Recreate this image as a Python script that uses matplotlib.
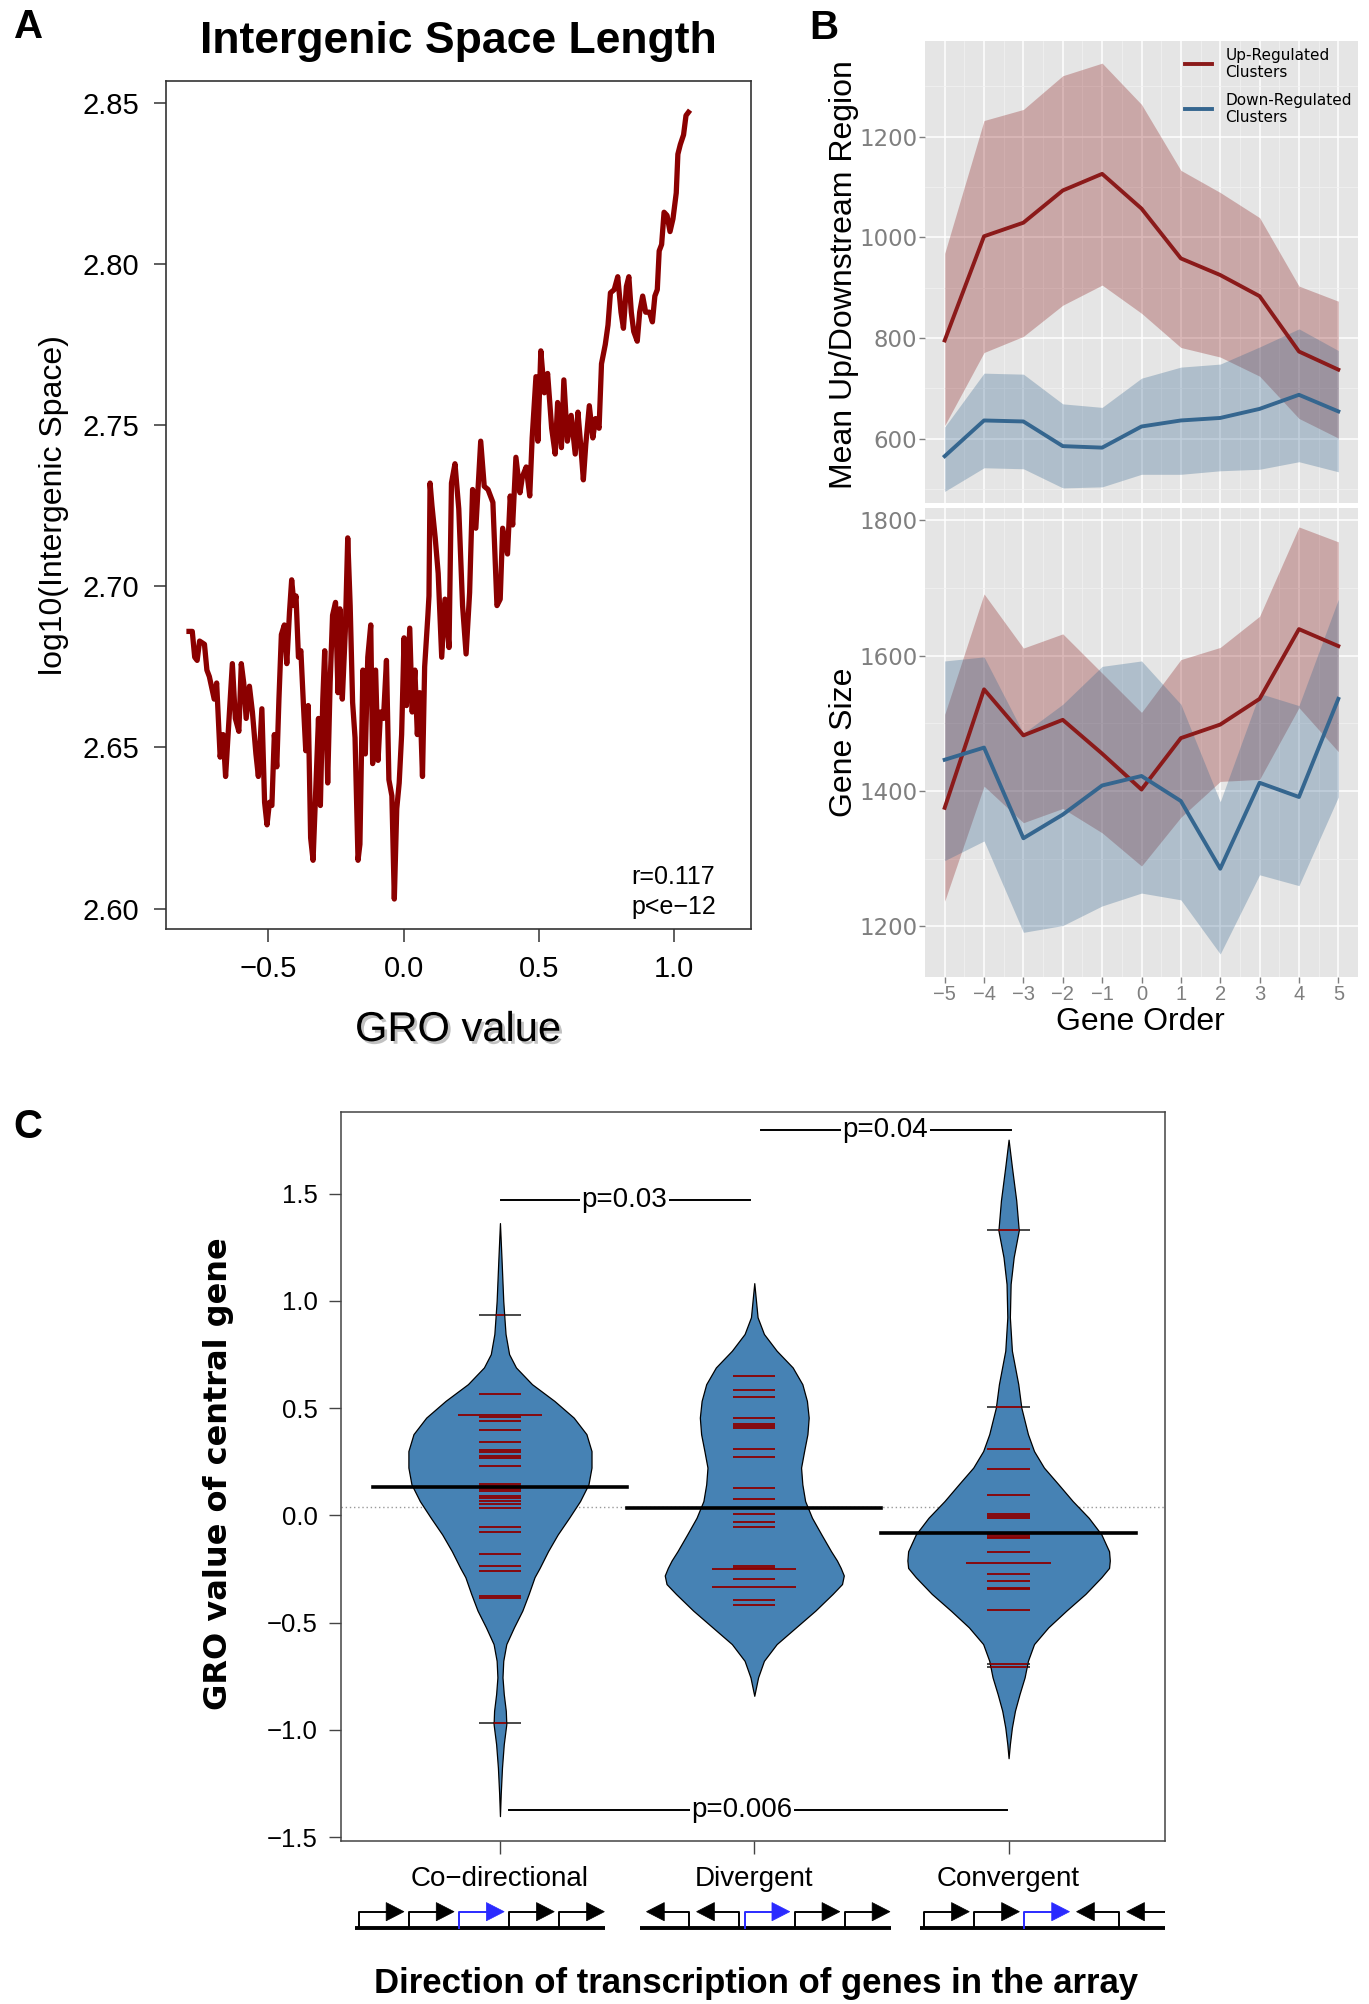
import matplotlib
matplotlib.use('Agg')
import matplotlib.pyplot as plt
import matplotlib.patheffects as pe
from matplotlib.collections import LineCollection
from matplotlib.patches import Polygon
import numpy as np

plt.rcParams['font.family'] = ['Liberation Sans', 'DejaVu Sans']

# ---------------- panel A: running mean of intergenic space vs GRO value
curve_pts = [
    (-0.792, 2.686), (-0.780, 2.686), (-0.771, 2.678), (-0.762, 2.677), (-0.753, 2.683),
    (-0.735, 2.682), (-0.726, 2.674), (-0.717, 2.672), (-0.699, 2.665), (-0.690, 2.670),
    (-0.677, 2.647), (-0.666, 2.654), (-0.657, 2.641), (-0.644, 2.659), (-0.632, 2.676),
    (-0.621, 2.659), (-0.608, 2.655), (-0.599, 2.676), (-0.590, 2.670), (-0.581, 2.659),
    (-0.569, 2.669), (-0.558, 2.661), (-0.545, 2.648), (-0.536, 2.641), (-0.523, 2.662),
    (-0.513, 2.633), (-0.504, 2.626), (-0.495, 2.633), (-0.486, 2.632), (-0.477, 2.654),
    (-0.468, 2.644), (-0.460, 2.665), (-0.451, 2.685), (-0.440, 2.688), (-0.431, 2.676),
    (-0.421, 2.692), (-0.413, 2.702), (-0.404, 2.694), (-0.397, 2.697), (-0.388, 2.678),
    (-0.379, 2.680), (-0.370, 2.664), (-0.361, 2.649), (-0.352, 2.663), (-0.343, 2.622),
    (-0.334, 2.615), (-0.323, 2.639), (-0.314, 2.659), (-0.307, 2.632), (-0.298, 2.665),
    (-0.291, 2.680), (-0.280, 2.639), (-0.271, 2.670), (-0.262, 2.691), (-0.251, 2.695),
    (-0.242, 2.667), (-0.235, 2.693), (-0.226, 2.665), (-0.215, 2.686), (-0.206, 2.715),
    (-0.197, 2.694), (-0.188, 2.664), (-0.179, 2.653), (-0.168, 2.615), (-0.161, 2.620),
    (-0.150, 2.674), (-0.141, 2.648), (-0.132, 2.678), (-0.121, 2.688), (-0.114, 2.645),
    (-0.103, 2.674), (-0.094, 2.646), (-0.085, 2.661), (-0.074, 2.659), (-0.063, 2.677),
    (-0.054, 2.640), (-0.043, 2.635), (-0.034, 2.603), (-0.025, 2.631), (-0.016, 2.639),
    (-0.007, 2.654), (0.002, 2.684), (0.011, 2.663), (0.023, 2.687), (0.032, 2.661),
    (0.042, 2.674), (0.051, 2.654), (0.060, 2.667), (0.070, 2.641), (0.078, 2.675),
    (0.090, 2.691), (0.094, 2.697), (0.098, 2.732), (0.105, 2.725), (0.117, 2.715),
    (0.128, 2.704), (0.141, 2.678), (0.153, 2.696), (0.168, 2.681), (0.177, 2.732),
    (0.190, 2.738), (0.204, 2.724), (0.218, 2.694), (0.231, 2.679), (0.244, 2.698),
    (0.255, 2.730), (0.267, 2.718), (0.285, 2.745), (0.298, 2.731), (0.312, 2.730),
    (0.330, 2.726), (0.345, 2.694), (0.357, 2.696), (0.366, 2.718), (0.384, 2.710),
    (0.394, 2.728), (0.403, 2.719), (0.415, 2.740), (0.430, 2.729), (0.439, 2.734),
    (0.453, 2.737), (0.466, 2.728), (0.475, 2.746), (0.489, 2.765), (0.496, 2.745),
    (0.507, 2.773), (0.520, 2.760), (0.532, 2.766), (0.547, 2.749), (0.560, 2.741),
    (0.569, 2.757), (0.583, 2.743), (0.592, 2.764), (0.605, 2.745), (0.619, 2.753),
    (0.634, 2.741), (0.644, 2.754), (0.655, 2.743), (0.664, 2.733), (0.673, 2.744),
    (0.686, 2.756), (0.699, 2.746), (0.709, 2.752), (0.722, 2.749), (0.731, 2.769),
    (0.745, 2.775), (0.755, 2.781), (0.764, 2.791), (0.778, 2.792), (0.791, 2.796),
    (0.803, 2.785), (0.812, 2.780), (0.823, 2.793), (0.832, 2.796), (0.841, 2.785),
    (0.850, 2.779), (0.863, 2.776), (0.872, 2.785), (0.883, 2.790), (0.894, 2.785),
    (0.908, 2.785), (0.919, 2.782), (0.928, 2.790), (0.937, 2.792), (0.944, 2.804),
    (0.953, 2.806), (0.962, 2.816), (0.973, 2.815), (0.984, 2.810), (0.995, 2.814),
    (1.007, 2.822), (1.013, 2.834), (1.022, 2.837), (1.034, 2.840), (1.043, 2.846),
    (1.052, 2.847),
]
gro_x = [p[0] for p in curve_pts]
log_space = [p[1] for p in curve_pts]

# ---------------- panel B: flanking region length and gene size by gene order
gene_order = [-5, -4, -3, -2, -1, 0, 1, 2, 3, 4, 5]
flank_up = [795, 1002, 1029, 1093, 1126, 1057, 958, 925, 883, 773, 737]
flank_up_hi = [968, 1232, 1254, 1321, 1346, 1264, 1133, 1089, 1039, 903, 873]
flank_up_lo = [626, 771, 803, 865, 905, 849, 781, 762, 724, 640, 601]
flank_dn = [565, 636, 634, 585, 582, 624, 636, 641, 659, 687, 654]
flank_dn_hi = [623, 730, 728, 669, 662, 720, 742, 748, 782, 818, 775]
flank_dn_lo = [495, 542, 540, 502, 504, 529, 529, 536, 539, 554, 534]

size_up = [1375, 1550, 1482, 1505, 1455, 1402, 1478, 1498, 1536, 1639, 1614]
size_up_hi = [1513, 1691, 1611, 1632, 1574, 1516, 1594, 1612, 1658, 1790, 1768]
size_up_lo = [1237, 1407, 1353, 1374, 1338, 1289, 1361, 1414, 1417, 1523, 1458]
size_dn = [1446, 1464, 1330, 1365, 1408, 1422, 1385, 1285, 1412, 1391, 1536]
size_dn_hi = [1592, 1598, 1485, 1528, 1584, 1592, 1528, 1384, 1544, 1526, 1683]
size_dn_lo = [1297, 1326, 1191, 1201, 1230, 1249, 1239, 1159, 1276, 1260, 1391]

# ---------------- panel C: GRO value of central gene by arrangement
categories = ['Co\u2212directional', 'Divergent', 'Convergent']
codir_y = [1.363, 1.2, 1.0, 0.93, 0.846, 0.752, 0.69, 0.612, 0.534, 0.456, 0.379, 0.30,
           0.223, 0.145, 0.067, -0.011, -0.089, -0.167, -0.245, -0.288, -0.366, -0.444,
           -0.522, -0.60, -0.678, -0.755, -0.833, -0.911, -0.973, -1.067, -1.176, -1.30, -1.402]
codir_w = [0.0, 0.006, 0.013, 0.017, 0.022, 0.036, 0.063, 0.126, 0.214, 0.29, 0.34, 0.36,
           0.36, 0.348, 0.315, 0.272, 0.227, 0.189, 0.156, 0.136, 0.113, 0.088,
           0.055, 0.025, 0.013, 0.010, 0.015, 0.023, 0.025, 0.015, 0.008, 0.003, 0.0]
div_y = [1.083, 0.924, 0.846, 0.768, 0.69, 0.612, 0.534, 0.456, 0.379, 0.30, 0.223, 0.145,
         0.067, -0.011, -0.089, -0.167, -0.21, -0.245, -0.28, -0.32, -0.366, -0.444, -0.522,
         -0.60, -0.678, -0.755, -0.841]
div_w = [0.0, 0.013, 0.038, 0.088, 0.151, 0.189, 0.207, 0.214, 0.209, 0.196, 0.184, 0.189,
         0.2, 0.227, 0.264, 0.302, 0.325, 0.34, 0.352, 0.345, 0.308, 0.24, 0.164,
         0.088, 0.038, 0.015, 0.0]
conv_y = [1.752, 1.625, 1.469, 1.329, 1.204, 1.079, 0.924, 0.768, 0.612, 0.503, 0.379, 0.30,
          0.223, 0.145, 0.067, -0.011, -0.089, -0.167, -0.21, -0.245, -0.288, -0.366, -0.444,
          -0.522, -0.60, -0.678, -0.755, -0.833, -0.911, -0.989, -1.067, -1.132]
conv_w = [0.0, 0.013, 0.03, 0.04, 0.02, 0.008, 0.005, 0.013, 0.038, 0.05, 0.076, 0.1,
          0.139, 0.196, 0.252, 0.315, 0.365, 0.395, 0.398, 0.395, 0.365, 0.302, 0.227,
          0.156, 0.1, 0.076, 0.063, 0.043, 0.025, 0.013, 0.005, 0.0]

codir_pts = [0.936, 0.565, 0.466, 0.466, 0.459, 0.441, 0.40, 0.344, 0.304, 0.298, 0.279,
             0.269, 0.229, 0.145, 0.137, 0.121, 0.114, 0.09, 0.079, 0.067, 0.055, 0.036,
             -0.053, -0.076, -0.179, -0.234, -0.26, -0.378, -0.385, -0.970]
div_pts = [0.651, 0.584, 0.553, 0.456, 0.425, 0.416, 0.407, 0.308, 0.273, 0.129, 0.075,
           0.005, -0.031, -0.053, -0.234, -0.245, -0.252, -0.252, -0.296, -0.335, -0.335,
           -0.394, -0.416]
conv_pts = [1.329, 0.506, 0.312, 0.215, 0.093, 0.005, -0.003, -0.011, -0.086, -0.092,
            -0.101, -0.107, -0.171, -0.222, -0.222, -0.275, -0.304, -0.338, -0.344,
            -0.439, -0.693, -0.706]
group_means = [0.132, 0.033, -0.081]
overall_mean = 0.039

pvals = ['p=0.03', 'p=0.04', 'p=0.006']
pval_x1 = [1.005, 2.025, 1.035]
pval_x2 = [1.985, 3.008, 2.995]
pval_y = [1.472, 1.799, -1.375]
pval_tx = [1.49, 2.516, 1.95]

gene_dirs = [['R', 'R', 'R', 'R', 'R'], ['L', 'L', 'R', 'R', 'R'], ['R', 'R', 'R', 'L', 'L']]

# ---------------- figure
W, H = 1369, 2004
fig = plt.figure(figsize=(W / 100, H / 100), dpi=100)


def box(x0, y0, x1, y1):
    return [x0 / W, 1 - y1 / H, (x1 - x0) / W, (y1 - y0) / H]


def fx(x):
    return x / W


def fy(y):
    return 1 - y / H


# ----- A
axA = fig.add_axes(box(166, 81, 751, 929))
axA.plot(gro_x, log_space, color='#8B0000', lw=3.8, solid_joinstyle='round')
axA.set_xlim(-0.877, 1.283)
axA.set_ylim(2.5937, 2.8567)
axA.set_xticks([-0.5, 0.0, 0.5, 1.0])
axA.set_xticklabels(['\u22120.5', '0.0', '0.5', '1.0'])
axA.set_yticks([2.60, 2.65, 2.70, 2.75, 2.80, 2.85])
axA.set_yticklabels(['%.2f' % v for v in [2.60, 2.65, 2.70, 2.75, 2.80, 2.85]])
axA.tick_params(direction='out', length=9, width=1.1, pad=10, labelsize=21, color='#333333')
for sp in axA.spines.values():
    sp.set_color('#333333')
    sp.set_linewidth(1.2)

fig.text(fx(29), fy(27), 'A', fontsize=29, weight='bold', ha='center', va='center')
fig.text(fx(458), fy(42), 'Intergenic Space Length', fontsize=32, weight='bold',
         ha='center', va='center')
fig.text(fx(54), fy(505), 'log10(Intergenic Space)', rotation=90, fontsize=23,
         ha='center', va='center')
fig.text(fx(458), fy(1030), 'GRO value', fontsize=30, ha='center', va='center',
         path_effects=[pe.withSimplePatchShadow(offset=(2, -2), shadow_rgbFace='#999999', alpha=0.6)])
fig.text(fx(631), fy(877), 'r=0.117', fontsize=18, ha='left', va='center')
fig.text(fx(631), fy(907), 'p<e\u221212', fontsize=18, ha='left', va='center')

# ----- B
RED = '#8B1A1A'
BLUE = '#35668F'
axB1 = fig.add_axes(box(925, 41, 1358, 503))
axB2 = fig.add_axes(box(925, 508, 1358, 977))
facets = [
    (axB1, flank_up, flank_up_lo, flank_up_hi, flank_dn, flank_dn_lo, flank_dn_hi,
     (472, 1390), [600, 800, 1000, 1200], [500, 700, 900, 1100, 1300]),
    (axB2, size_up, size_up_lo, size_up_hi, size_dn, size_dn_lo, size_dn_hi,
     (1125, 1818), [1200, 1400, 1600, 1800], [1300, 1500, 1700]),
]
for ax, um, ulo, uhi, dm, dlo, dhi, ylim, yt, ytm in facets:
    ax.set_facecolor('#E5E5E5')
    ax.fill_between(gene_order, ulo, uhi, color=RED, alpha=0.3, lw=0)
    ax.plot(gene_order, um, color=RED, lw=2.8)
    ax.fill_between(gene_order, dlo, dhi, color=BLUE, alpha=0.3, lw=0)
    ax.plot(gene_order, dm, color=BLUE, lw=2.8)
    ax.set_xlim(-5.5, 5.5)
    ax.set_ylim(*ylim)
    ax.set_xticks(gene_order)
    ax.set_xticks(np.arange(-4.5, 5.0, 1.0), minor=True)
    ax.set_yticks(yt)
    ax.set_yticks(ytm, minor=True)
    ax.set_axisbelow(True)
    ax.grid(which='major', color='white', lw=1.1)
    ax.grid(which='minor', color='#F2F2F2', lw=0.5)
    for sp in ax.spines.values():
        sp.set_visible(False)
    ax.tick_params(which='minor', length=0)
    ax.tick_params(which='major', direction='out', length=4, width=1, color='#7F7F7F',
                   labelcolor='#7F7F7F', pad=1.5)
    ax.tick_params(axis='y', labelsize=16.5)
    ax.tick_params(axis='x', labelsize=14.5)
    for lab in ax.get_yticklabels():
        lab.set_family('DejaVu Sans')
axB1.tick_params(axis='x', length=0, labelbottom=False)
axB2.set_xticklabels(['\u22125', '\u22124', '\u22123', '\u22122', '\u22121', '0', '1', '2', '3', '4', '5'])

# legend
for yl, col, lab in [(0.950, RED, 'Up-Regulated\nClusters'), (0.852, BLUE, 'Down-Regulated\nClusters')]:
    axB1.plot([0.600, 0.663], [yl, yl], color=col, lw=2.8, transform=axB1.transAxes, clip_on=False)
    axB1.text(0.694, yl, lab, transform=axB1.transAxes, fontsize=11, family='DejaVu Sans',
              ha='left', va='center', linespacing=1.15)

fig.text(fx(824), fy(28), 'B', fontsize=29, weight='bold', ha='center', va='center')
fig.text(fx(844), fy(275), 'Mean Up/Downstream Region', rotation=90, fontsize=23,
         ha='center', va='center')
fig.text(fx(844), fy(742), 'Gene Size', rotation=90, fontsize=23, ha='center', va='center')
fig.text(fx(1140), fy(1022), 'Gene Order', fontsize=23, ha='center', va='center')

# ----- C
axC = fig.add_axes(box(341, 1112, 1165, 1841))
axC.set_xlim(0.375, 3.615)
axC.set_ylim(-1.518, 1.881)
axC.axhline(overall_mean, color='#999999', ls=(0, (1, 2)), lw=1.0, zorder=0.5)

beans = [(codir_y, codir_w, codir_pts), (div_y, div_w, div_pts), (conv_y, conv_w, conv_pts)]
for i, (ys, ws, pts) in enumerate(beans):
    pos = i + 1
    ys = np.array(ys)
    ws = np.array(ws)
    poly = axC.fill_betweenx(ys, pos - ws, pos + ws, facecolor='#4682B4', edgecolor='black',
                             lw=0.9, zorder=2)
    vals, counts = np.unique(np.round(pts, 3), return_counts=True)
    segs = [[(pos - 0.083 * c, v), (pos + 0.083 * c, v)] for v, c in zip(vals, counts)]
    axC.add_collection(LineCollection(segs, colors='#3A3A3A', linewidths=1.3, zorder=1.5))
    red = LineCollection(segs, colors='#8B0000', linewidths=1.3, zorder=3)
    axC.add_collection(red)
    red.set_clip_path(poly.get_paths()[0], axC.transData)
    axC.plot([pos - 0.5, pos + 0.5], [group_means[i]] * 2, color='black', lw=2.6, zorder=4)

for lab, x1, x2, y, tx in zip(pvals, pval_x1, pval_x2, pval_y, pval_tx):
    axC.plot([x1, x2], [y, y], color='black', lw=1.4, zorder=4)
    axC.text(tx, y, lab, ha='center', va='center', fontsize=20, zorder=5,
             bbox=dict(facecolor='white', edgecolor='none', pad=1.0))

yt = [-1.5, -1.0, -0.5, 0.0, 0.5, 1.0, 1.5]
axC.set_yticks(yt)
axC.set_yticklabels([('%.1f' % v).replace('-', '\u2212') for v in yt])
axC.set_xticks([1, 2, 3])
axC.set_xticklabels(categories)
axC.tick_params(axis='y', direction='out', length=9, width=1, pad=8, labelsize=18.5, color='#444444')
axC.tick_params(axis='x', direction='out', length=9, width=1, pad=9, labelsize=20, color='#444444')
for sp in axC.spines.values():
    sp.set_color('#444444')
    sp.set_linewidth(1.1)

# gene arrangement sketches under each category
axG = fig.add_axes(box(341, 1898, 1165, 1936))
axG.set_xlim(0.375, 3.615)
axG.set_ylim(0, 1)
axG.axis('off')
slot = 0.197
shifts = [-0.078, 0.045, 0.145]
for i, dirs in enumerate(gene_dirs):
    c = i + 1 + shifts[i]
    start = c - 2.5 * slot
    axG.plot([start, start + 5 * slot], [0.2, 0.2], color='black', lw=2.8, solid_capstyle='butt')
    for k, d in enumerate(dirs):
        col = '#2A2AFF' if k == 2 else 'black'
        left = start + k * slot
        right = left + slot
        head = 0.07
        if d == 'R':
            vx, tip = left + 0.08 * slot, right - 0.02 * slot
            base = tip - head
        else:
            vx, tip = right - 0.03 * slot, left + 0.12 * slot
            base = tip + head
        axG.plot([vx, vx, base], [0.2, 0.64, 0.64], color=col, lw=1.4)
        axG.add_patch(Polygon([(tip, 0.64), (base, 0.88), (base, 0.40)], closed=True,
                              facecolor=col, edgecolor=col, lw=0.5))

fig.text(fx(28), fy(1127), 'C', fontsize=29, weight='bold', ha='center', va='center')
fig.text(fx(219), fy(1474), 'GRO value of central gene', rotation=90, fontsize=23,
         weight='bold', family='DejaVu Sans', ha='center', va='center')
fig.text(fx(756), fy(1984), 'Direction of transcription of genes in the array', fontsize=25,
         weight='bold', ha='center', va='center')

fig.savefig('out.png', dpi=100)
